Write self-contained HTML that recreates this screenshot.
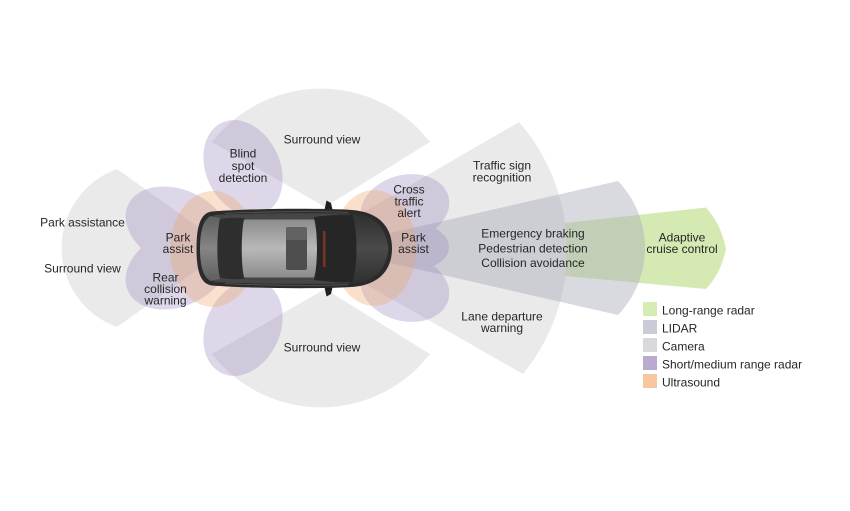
<!DOCTYPE html>
<html>
<head>
<meta charset="utf-8">
<style>
  html,body{margin:0;padding:0;background:#fff;}
  svg{display:block;}
  text{font-family:"Liberation Sans", Arial, sans-serif;font-size:12px;fill:#262626;}
</style>
</head>
<body>
<svg width="850" height="511" viewBox="0 0 850 511" xmlns="http://www.w3.org/2000/svg">
  <defs>
    <linearGradient id="roof" x1="0" y1="0" x2="0" y2="1">
      <stop offset="0" stop-color="#8c8c8c"/>
      <stop offset="0.5" stop-color="#b8b8b8"/>
      <stop offset="1" stop-color="#8c8c8c"/>
    </linearGradient>
    <linearGradient id="trunk" x1="0" y1="0" x2="0" y2="1">
      <stop offset="0" stop-color="#5e5e5e"/>
      <stop offset="0.5" stop-color="#858585"/>
      <stop offset="1" stop-color="#5e5e5e"/>
    </linearGradient>
    <linearGradient id="hood" x1="0" y1="0" x2="0" y2="1">
      <stop offset="0" stop-color="#2f2f2f"/>
      <stop offset="0.5" stop-color="#4a4a4a"/>
      <stop offset="1" stop-color="#2f2f2f"/>
    </linearGradient>
  </defs>

  <!-- Camera sectors -->
  <g fill="#c6c6c6" fill-opacity="0.37">
    <path d="M325,207 L212,142 A138,138 0 0,1 430,142 Z"/>
    <path d="M325,289 L212,354 A138,138 0 0,0 430,354 Z"/>
    <path d="M228,248 L117,169 A84,84 0 0,0 117,327 Z"/>
    <path d="M302,248 L519,122 A195.6,195.6 0 0,1 523,374 Z"/>
  </g>

  <!-- Long-range radar (green) -->
  <path d="M565,223 L706,207.5 Q721,224 726,249 Q721,273 706,289 L565,276 A195.6,195.6 0 0,0 565,223 Z" fill="#acd668" fill-opacity="0.5"/>

  <!-- LIDAR -->
  <path d="M325,248 L618,181 A96.6,96.6 0 0,1 618,315 Z" fill="#aaacba" fill-opacity="0.45"/>

  <!-- Short/medium range radar (purple) -->
  <g opacity="0.32" fill="#9a86bd">
    <!-- rear lobes -->
    <ellipse cx="178" cy="228" rx="55" ry="38" transform="rotate(25 178 228)"/>
    <ellipse cx="178" cy="268" rx="55" ry="38" transform="rotate(-25 178 268)"/>
    <!-- blind spot lobes -->
    <ellipse cx="243" cy="168" rx="37" ry="50" transform="rotate(-25 243 168)"/>
    <ellipse cx="243" cy="328" rx="37" ry="50" transform="rotate(25 243 328)"/>
    <!-- front lobes -->
    <ellipse cx="405" cy="208" rx="45" ry="33" transform="rotate(-15 405 208)"/>
    <ellipse cx="405" cy="288" rx="45" ry="33" transform="rotate(15 405 288)"/>
    <ellipse cx="418" cy="247" rx="31" ry="22"/>
  </g>

  <!-- Ultrasound (orange) -->
  <g opacity="0.33" fill="#eea466">
    <ellipse cx="213" cy="249" rx="43" ry="58"/>
    <ellipse cx="374" cy="248" rx="42" ry="58"/>
  </g>

  <!-- Car -->
  <g>
    <!-- mirrors -->
    <path d="M324,212 L326.5,200.5 L331,203 L333,212 Z" fill="#1e1e1e"/>
    <path d="M324,285 L326.5,296.5 L331,294 L333,285 Z" fill="#1e1e1e"/>
    <!-- body -->
    <path d="M212,211.5 C250,208.5 320,208 352,210 C378,212 392,226 392,248.5 C392,271 378,285 352,287 C320,289 250,288.5 212,285.5 C200,284 196.5,270 196.5,248.5 C196.5,227 200,213 212,211.5 Z" fill="#2b2b2b"/>
    <!-- side panels -->
    <path d="M214,215 C250,213 320,212.5 350,214 L350,283 C320,284.5 250,284 214,282 Z" fill="#464646"/>
    <!-- trunk -->
    <path d="M211,216 C203,219 200,232 200,248.5 C200,265 203,278 211,281 L220,279 L220,218 Z" fill="url(#trunk)"/>
    <!-- rear window -->
    <path d="M220,219 C232,217.5 240,217.5 245,218.5 L245,278.5 C240,279.5 232,279.5 220,278 C216.5,265 216.5,232 220,219 Z" fill="#2e2e2e"/>
    <!-- roof -->
    <path d="M244,219.5 L314,219.5 C318,231 318,266 314,277.5 L244,277.5 C241,265 241,232 244,219.5 Z" fill="url(#roof)"/>
    <!-- sunroof -->
    <rect x="286" y="227" width="21" height="43" rx="2" fill="#4e4e4e"/>
    <rect x="286" y="227" width="21" height="13" rx="2" fill="#626262"/>
    <!-- windshield -->
    <path d="M314,217 C330,215 345,214 352,215 C358,228 358,269 352,282 C345,283 330,282 314,280 C318,268 318,229 314,217 Z" fill="#262626"/>
    <rect x="323" y="231" width="2.5" height="36" fill="#7a3324"/>
    <!-- hood -->
    <path d="M352,213.5 C372,215 386,225 388.5,248.5 C386,272 372,282 352,283.5 C358,269 358,228 352,213.5 Z" fill="url(#hood)"/>
    <!-- highlights -->
    <path d="M225,213.5 C260,211.5 320,211 348,212.5" stroke="#6e6e6e" stroke-width="0.8" fill="none" opacity="0.7"/>
    <path d="M225,283.5 C260,285.5 320,286 348,284.5" stroke="#6e6e6e" stroke-width="0.8" fill="none" opacity="0.7"/>
  </g>

  <!-- Labels -->
  <g text-anchor="middle">
    <text x="322" y="143.3">Surround view</text>
    <text x="243" y="157.5">Blind</text>
    <text x="243" y="169.8">spot</text>
    <text x="243" y="182">detection</text>
    <text x="82.5" y="226.3">Park assistance</text>
    <text x="82.5" y="272.3">Surround view</text>
    <text x="178" y="241.5">Park</text>
    <text x="178" y="253">assist</text>
    <text x="165.5" y="281.5">Rear</text>
    <text x="165.5" y="293">collision</text>
    <text x="165.5" y="304.5">warning</text>
    <text x="322" y="351.3">Surround view</text>
    <text x="409" y="193.6">Cross</text>
    <text x="409" y="205.5">traffic</text>
    <text x="409" y="217">alert</text>
    <text x="413.5" y="241.5">Park</text>
    <text x="413.5" y="253">assist</text>
    <text x="502" y="169.3">Traffic sign</text>
    <text x="502" y="181.5">recognition</text>
    <text x="533" y="237.5">Emergency braking</text>
    <text x="533" y="252.3">Pedestrian detection</text>
    <text x="533" y="267">Collision avoidance</text>
    <text x="682" y="241.5">Adaptive</text>
    <text x="682" y="253">cruise control</text>
    <text x="502" y="320.3">Lane departure</text>
    <text x="502" y="332">warning</text>
  </g>

  <!-- Legend -->
  <rect x="643" y="302" width="14" height="14" fill="#d5ecb4"/>
  <rect x="643" y="320" width="14" height="14" fill="#c9ccd6"/>
  <rect x="643" y="338" width="14" height="14" fill="#d9d9dd"/>
  <rect x="643" y="356" width="14" height="14" fill="#baaad0"/>
  <rect x="643" y="374" width="14" height="14" fill="#f6c7a0"/>
  <text x="662" y="314.3">Long-range radar</text>
  <text x="662" y="332.3">LIDAR</text>
  <text x="662" y="350.3">Camera</text>
  <text x="662" y="368.3">Short/medium range radar</text>
  <text x="662" y="386.3">Ultrasound</text>
</svg>
</body>
</html>
